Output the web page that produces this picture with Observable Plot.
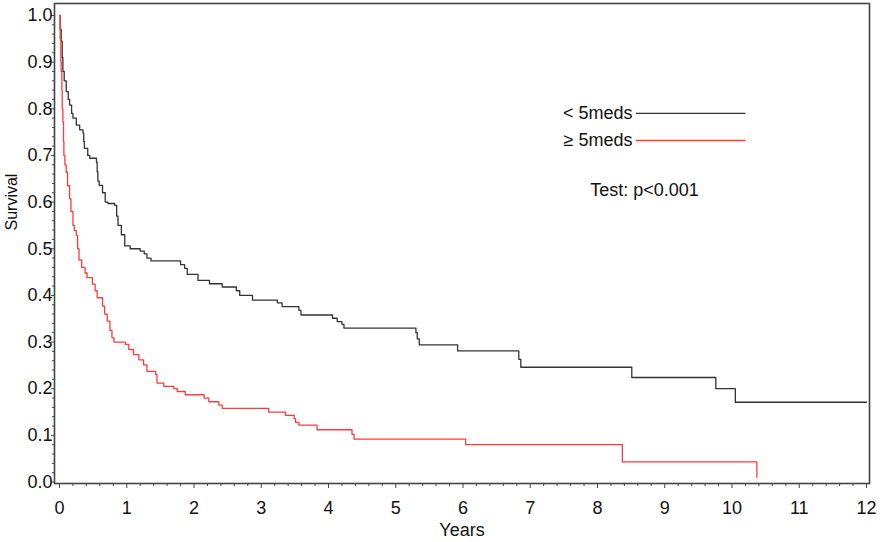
<!DOCTYPE html>
<html>
<head>
<meta charset="utf-8">
<script src="https://cdn.jsdelivr.net/npm/d3@7"></script>
<script src="https://cdn.jsdelivr.net/npm/@observablehq/plot@0.6"></script>
<style>
  html, body { margin: 0; padding: 0; background: #fff; }
  #chart { width: 882px; height: 542px; }
</style>
</head>
<body>
<div id="chart"></div>
<script>
// ---- Data ----
// Group "< 5meds": time (years) at which survival steps to the value
const lowTimes = [0, 0.01, 0.025, 0.04, 0.05, 0.07, 0.1, 0.13, 0.15, 0.18, 0.2, 0.25, 0.3, 0.35, 0.36, 0.37, 0.42, 0.45, 0.55, 0.56, 0.57, 0.59, 0.64, 0.68, 0.72, 0.82, 0.85, 0.87, 0.92, 0.97, 1.05, 1.2, 1.26, 1.3, 1.36, 1.8, 1.86, 1.9, 2.06, 2.23, 2.42, 2.63, 2.68, 2.87, 3.24, 3.31, 3.56, 3.59, 4.06, 4.13, 4.2, 4.23, 5.3, 5.32, 5.35, 5.92, 6.83, 6.86, 8.51, 9.76, 10.05, 12.0];
const lowSurv  = [1.0, 0.97, 0.945, 0.91, 0.88, 0.86, 0.837, 0.82, 0.808, 0.79, 0.78, 0.765, 0.755, 0.748, 0.73, 0.715, 0.70, 0.694, 0.685, 0.665, 0.645, 0.636, 0.62, 0.60, 0.597, 0.593, 0.57, 0.55, 0.53, 0.506, 0.50, 0.495, 0.489, 0.48, 0.474, 0.466, 0.458, 0.445, 0.432, 0.425, 0.418, 0.41, 0.40, 0.39, 0.384, 0.376, 0.368, 0.358, 0.351, 0.344, 0.338, 0.33, 0.32, 0.307, 0.294, 0.281, 0.263, 0.246, 0.224, 0.20, 0.171, 0.171];

// Group "≥ 5meds"
const highTimes = [0, 0.01, 0.02, 0.025, 0.035, 0.04, 0.05, 0.06, 0.065, 0.08, 0.1, 0.12, 0.15, 0.17, 0.2, 0.22, 0.25, 0.27, 0.29, 0.33, 0.38, 0.41, 0.49, 0.53, 0.56, 0.64, 0.67, 0.71, 0.75, 0.78, 0.81, 0.98, 1.03, 1.1, 1.18, 1.25, 1.3, 1.43, 1.45, 1.55, 1.7, 1.75, 1.87, 2.15, 2.22, 2.37, 2.42, 3.11, 3.36, 3.49, 3.51, 3.56, 3.83, 4.35, 4.38, 6.04, 8.37, 10.37];
const highSurv  = [1.0, 0.95, 0.90, 0.88, 0.84, 0.80, 0.772, 0.73, 0.70, 0.68, 0.664, 0.635, 0.607, 0.58, 0.55, 0.539, 0.528, 0.50, 0.476, 0.46, 0.448, 0.438, 0.424, 0.41, 0.395, 0.377, 0.36, 0.345, 0.325, 0.309, 0.30, 0.295, 0.284, 0.273, 0.262, 0.251, 0.237, 0.23, 0.212, 0.205, 0.20, 0.194, 0.187, 0.18, 0.172, 0.165, 0.158, 0.15, 0.143, 0.136, 0.128, 0.122, 0.112, 0.102, 0.092, 0.08, 0.043, 0.01];

const groupNames = ["< 5meds", "≥ 5meds"];
const groupColors = ["#333333", "#ff3b3b"];
const xTickValues = [0, 1, 2, 3, 4, 5, 6, 7, 8, 9, 10, 11, 12];
const yTickValues = [0, 0.1, 0.2, 0.3, 0.4, 0.5, 0.6, 0.7, 0.8, 0.9, 1.0];
const testLabel = "Test: p<0.001";

// ---- Build tables ----
const lowData = lowTimes.map((t, i) => ({t, s: lowSurv[i], g: groupNames[0]}));
const highData = highTimes.map((t, i) => ({t, s: highSurv[i], g: groupNames[1]}));
const xMinor = d3.range(0, 61).map(i => i / 5).filter(v => Math.abs(v - Math.round(v)) > 1e-9);
const yMinor = d3.range(0, 51).map(i => i / 50).filter(v => Math.abs(v * 10 - Math.round(v * 10)) > 1e-9);
const legend = groupNames.map((name, i) => ({name, color: groupColors[i], y: [0.79, 0.732][i]}));

const font = "'Liberation Sans', Arial, Helvetica, sans-serif";
const axisColor = "#444";

const chart = Plot.plot({
  width: 882,
  height: 542,
  marginLeft: 54,
  marginRight: 13,
  marginTop: 3,
  marginBottom: 59,
  style: {fontFamily: font, fontSize: "17px", color: "#111", background: "#fff", overflow: "visible"},
  x: {domain: [-0.0744, 12.045]},
  y: {domain: [-0.0032, 1.0257]},
  marks: [
    Plot.axisX(xTickValues, {tickSize: 5, tickPadding: 13, fontSize: 18, label: null, stroke: axisColor, tickFormat: d => String(d)}),
    Plot.axisX(xMinor, {tickSize: 3, label: null, stroke: axisColor, tickFormat: () => ""}),
    Plot.axisY(yTickValues, {tickSize: 3, tickPadding: -1, fontSize: 18, label: null, stroke: axisColor, tickFormat: d3.format(".1f")}),
    Plot.axisY(yMinor, {tickSize: 2, label: null, stroke: axisColor, tickFormat: () => ""}),
    Plot.line(lowData, {x: "t", y: "s", curve: "step-after", stroke: groupColors[0], strokeWidth: 1.3}),
    Plot.line(highData, {x: "t", y: "s", curve: "step-after", stroke: groupColors[1], strokeWidth: 1.3}),
    Plot.frame({stroke: axisColor, strokeWidth: 1.6}),
    // legend
    Plot.text(legend, {x: 8.52, y: "y", text: "name", textAnchor: "end", fontSize: 18, fill: "#111"}),
    Plot.link(legend, {x1: 8.57, x2: 10.2, y1: "y", y2: "y", stroke: "color", strokeWidth: 1.3}),
    Plot.text([testLabel], {x: 8.70, y: 0.625, fontSize: 18, fill: "#111"}),
    // axis titles
    Plot.text(["Years"], {frameAnchor: "bottom", dy: 52, fontSize: 18, fill: "#111"}),
    Plot.text(["Survival"], {frameAnchor: "left", dx: -43, dy: -13, rotate: -90, fontSize: 16, fill: "#111"})
  ]
});
document.getElementById("chart").appendChild(chart);
</script>
</body>
</html>
